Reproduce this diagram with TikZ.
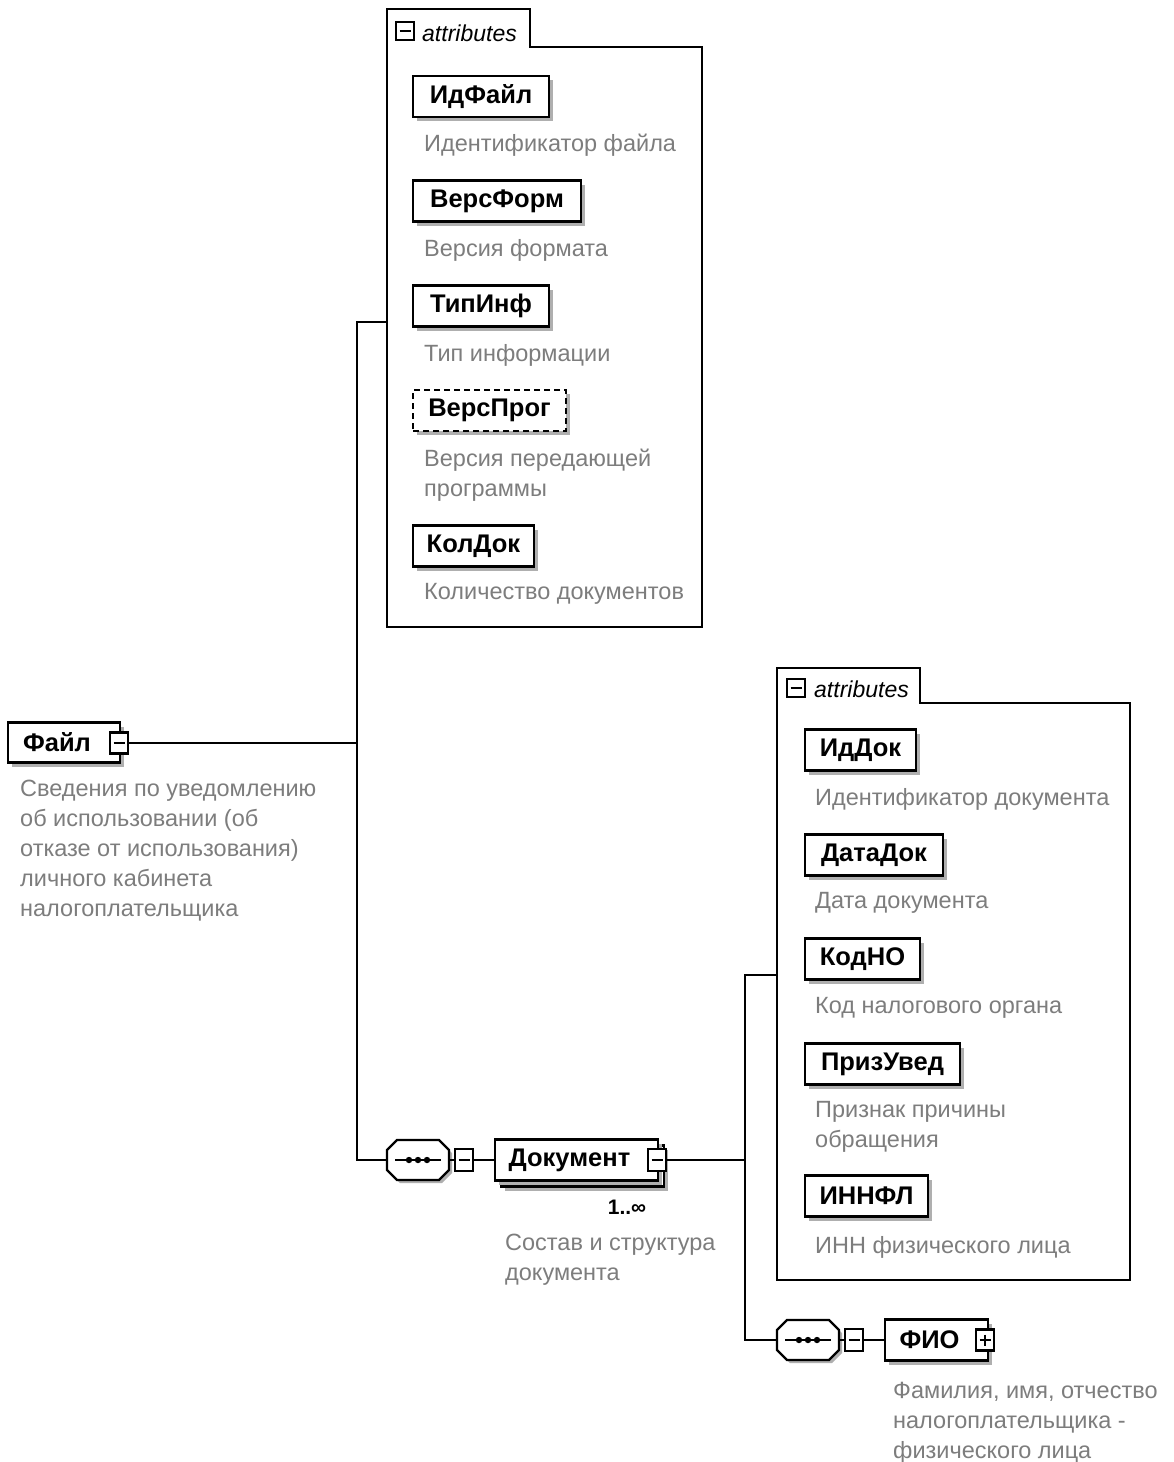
\documentclass[tikz,border=0pt]{standalone}
\usepackage{fontspec}
\setmainfont{Liberation Sans}
\usetikzlibrary{calc,shadows}
\definecolor{descgray}{RGB}{125,125,125}
\definecolor{shadowgray}{RGB}{175,175,175}
\newcommand\dstrut{\rule{0pt}{16pt}}
\tikzset{
  conn/.style={line width=2pt, draw=black},
  frame/.style={line width=2.4pt, draw=black},
  elem/.style={draw, line width=2.6pt, fill=white, inner sep=0pt, minimum height=41pt,
    font=\fontsize{25.5}{29}\selectfont\bfseries,
    drop shadow={shadow xshift=4pt, shadow yshift=-4pt, fill=shadowgray, opacity=1}},
  optelem/.style={elem, dash pattern=on 6pt off 4pt},
  desc/.style={font=\fontsize{23.5}{30}\selectfont, text=descgray, align=left, anchor=north west,
    inner sep=0pt},
  tabtext/.style={font=\fontsize{23}{26}\selectfont\itshape, anchor=west, inner sep=0pt},
  icon/.style={draw, line width=2.2pt, fill=white, minimum width=18pt, minimum height=21pt, inner sep=0pt},
  mult/.style={font=\fontsize{21}{24}\selectfont\bfseries, inner sep=0pt},
}
\newcommand\mkminus[3][21pt]{%
  \node[icon, minimum height=#1] (#2) at (#3) {};
  \draw[line width=2pt] ($(#2.center)+(-5.5,0)$) -- ($(#2.center)+(5.5,0)$);
}
\newcommand\mkplus[2]{%
  \node[icon] (#1) at (#2) {};
  \draw[line width=2pt] ($(#1.center)+(-5.5,0)$) -- ($(#1.center)+(5.5,0)$);
  \draw[line width=2pt] ($(#1.center)+(0,-5.5)$) -- ($(#1.center)+(0,5.5)$);
}
\newcommand\mkseq[2]{%
  \node[minimum width=62pt, minimum height=40pt, inner sep=0pt] (#1) at (#2) {};
  \fill[shadowgray] ($(#1.center)+(-18,-17)$) -- ($(#1.center)+(24,-17)$) -- ($(#1.center)+(34,-7)$)
    -- ($(#1.center)+(34,13)$) -- ($(#1.center)+(24,23)$) -- ($(#1.center)+(-18,23)$)
    -- ($(#1.center)+(-28,13)$) -- ($(#1.center)+(-28,-7)$) -- cycle;
  \draw[line width=2.4pt, fill=white] ($(#1.center)+(-21,-20)$) -- ($(#1.center)+(21,-20)$) -- ($(#1.center)+(31,-10)$)
    -- ($(#1.center)+(31,10)$) -- ($(#1.center)+(21,20)$) -- ($(#1.center)+(-21,20)$)
    -- ($(#1.center)+(-31,10)$) -- ($(#1.center)+(-31,-10)$) -- cycle;
  \draw[line width=2pt] ($(#1.center)+(-23,0)$) -- ($(#1.center)+(23,0)$);
  \fill ($(#1.center)+(-9,0)$) circle (3.2pt) ($(#1.center)+(0,0)$) circle (3.2pt) ($(#1.center)+(9,0)$) circle (3.2pt);
}
\begin{document}
\begin{tikzpicture}[x=1pt,y=-1pt]
\useasboundingbox[fill=white] (0,0) rectangle (1173,1462);

% ---------- first attributes group ----------
\draw[frame] (387,627) -- (387,9) -- (530,9) -- (530,47) -- (702,47) -- (702,627) -- cycle;
\coordinate (att1w) at (387,322);
\mkminus[18pt]{tab1icon}{405,31}
\node[tabtext] (tab1) at (422,33) {attributes};

\node[elem, minimum width=136pt] (idfayl) at (481,96.5) {ИдФайл};
\node[desc] (didfayl) at (424,134) {\dstrut Идентификатор файла};
\node[elem, minimum width=168pt] (versform) at (497,201) {ВерсФорм};
\node[desc] (dversform) at (424,239) {\dstrut Версия формата};
\node[elem, minimum width=136pt] (tipinf) at (481,306) {ТипИнф};
\node[desc] (dtipinf) at (424,344) {\dstrut Тип информации};
\node[optelem, minimum width=153pt] (versprog) at (489.5,410.5) {ВерсПрог};
\node[desc] (dversprog) at (424,449) {\dstrut Версия передающей\\программы};
\node[elem, minimum width=121pt] (koldok) at (473.5,546) {КолДок};
\node[desc] (dkoldok) at (424,583) {\dstrut Количество документов};

% ---------- root element ----------
\node[elem, minimum width=112pt, minimum height=40pt] (fayl) at (64,742.5) {Файл\hspace*{14pt}};
\mkminus{faylicon}{119,743}
\node[desc] (dfayl) at (20,780) {\dstrut Сведения по уведомлению\\об использовании (об\\отказе от использования)\\личного кабинета\\налогоплательщика};

\coordinate (j1) at (357,743);
\coordinate (j1t) at (357,322);
\coordinate (j1b) at (357,1160);

% ---------- sequence 1 and Документ ----------
\mkseq{seq1}{418,1160}
\mkminus[22pt]{seq1icon}{464,1160}

\node[elem, minimum width=163pt, minimum height=41pt] (dokback) at (582.5,1166) {};
\node[elem, minimum width=163pt, minimum height=41pt] (dok) at (576.5,1160) {Документ\hspace*{14pt}};
\mkminus[22pt]{dokicon}{657,1160}
\node[mult] (dokmult) at (627,1207) {1..∞};
\node[desc] (ddok) at (505,1234) {\dstrut Состав и структура\\документа};

\draw[conn] (faylicon.east) -- (j1);
\draw[conn] (att1w) -- (j1t) -- (j1b) -- (seq1.west);
\draw[conn] (seq1.east) -- (seq1icon.west);
\draw[conn] (seq1icon.east) -- (dok.west);

% ---------- second attributes group ----------
\draw[frame] (777,1280) -- (777,668) -- (920,668) -- (920,703) -- (1130,703) -- (1130,1280) -- cycle;
\coordinate (att2w) at (777,975);
\mkminus[18pt]{tab2icon}{796,688}
\node[tabtext] (tab2) at (814,689) {attributes};

\node[elem, minimum width=111pt] (iddok) at (860.5,750) {ИдДок};
\node[desc] (diddok) at (815,788) {\dstrut Идентификатор документа};
\node[elem, minimum width=138pt] (datadok) at (874,855) {ДатаДок};
\node[desc] (ddatadok) at (815,892) {\dstrut Дата документа};
\node[elem, minimum width=115pt] (kodno) at (862.5,959) {КодНО};
\node[desc] (dkodno) at (815,997) {\dstrut Код налогового органа};
\node[elem, minimum width=155pt] (prizuved) at (882.5,1064) {ПризУвед};
\node[desc] (dprizuved) at (815,1101) {\dstrut Признак причины\\обращения};
\node[elem, minimum width=123pt] (innfl) at (866.5,1196) {ИННФЛ};
\node[desc] (dinnfl) at (815,1236) {\dstrut ИНН физического лица};

% ---------- sequence 2 and ФИО ----------
\coordinate (j2) at (745,1160);
\coordinate (j2t) at (745,975);
\coordinate (j2b) at (745,1340);
\mkseq{seq2}{808,1340}
\mkminus[22pt]{seq2icon}{854,1340}
\node[elem, minimum width=103pt, minimum height=41pt] (fio) at (936.5,1340) {ФИО\hspace*{14pt}};
\mkplus{fioicon}{985,1340}
\node[desc] (dfio) at (893,1382) {\dstrut Фамилия, имя, отчество\\налогоплательщика -\\физического лица};

\draw[conn] (dokicon.east) -- (j2);
\draw[conn] (att2w) -- (j2t) -- (j2b) -- (seq2.west);
\draw[conn] (seq2.east) -- (seq2icon.west);
\draw[conn] (seq2icon.east) -- (fio.west);
\end{tikzpicture}
\end{document}
